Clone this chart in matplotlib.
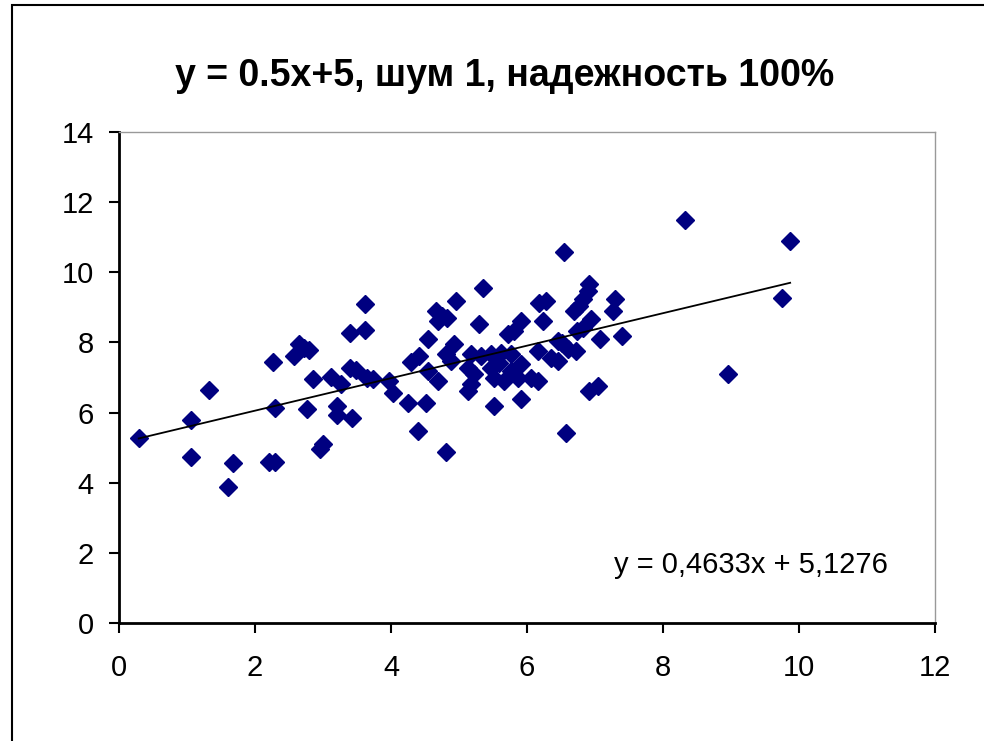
import numpy as np
import matplotlib.pyplot as plt
from matplotlib.patches import Rectangle

plt.rcParams['font.family'] = ['Liberation Sans', 'DejaVu Sans']

# точки
x_vals = [0.29, 1.06, 1.06, 1.33, 1.67, 1.61, 2.20, 2.29, 2.26, 2.29,
          2.64, 2.80, 2.58, 2.72, 2.86, 2.77, 3.00, 2.95, 3.12, 3.27,
          3.20, 3.21, 3.42, 3.40, 3.62, 3.62, 3.39, 3.49, 3.64, 3.74,
          3.97, 4.03, 4.30, 4.25, 4.52, 4.40, 4.41, 4.55, 4.66, 4.69,
          4.54, 4.69, 4.81, 5.35, 4.96, 4.75, 4.82, 5.29, 6.17, 6.28,
          6.23, 5.91, 5.81, 5.72, 4.93, 4.81, 4.88, 5.18, 5.32, 5.47,
          5.62, 5.76, 5.13, 5.22, 5.47, 5.59, 5.76, 5.87, 5.91, 6.16,
          6.35, 6.45, 6.45, 6.61, 5.13, 5.18, 5.51, 5.66, 6.06, 6.16,
          5.51, 5.91, 6.57, 6.55, 6.91, 6.89, 6.82, 6.76, 6.69, 7.30,
          7.26, 6.94, 6.83, 6.74, 7.08, 7.40, 6.52, 6.72, 7.04, 6.91,
          8.33, 9.87, 9.75, 8.96]
y_vals = [5.28, 5.80, 4.72, 6.65, 4.55, 3.89, 4.60, 4.60, 7.43, 6.12,
          7.95, 7.78, 7.61, 7.85, 6.95, 6.11, 5.11, 4.97, 7.01, 6.82,
          6.19, 5.94, 5.85, 8.27, 8.35, 9.09, 7.27, 7.20, 6.99, 6.96,
          6.90, 6.56, 7.43, 6.26, 6.28, 5.48, 7.61, 8.10, 8.89, 8.61,
          7.19, 6.90, 4.88, 9.55, 9.18, 8.75, 8.70, 8.52, 9.12, 9.18,
          8.61, 8.61, 8.32, 8.24, 7.95, 7.67, 7.47, 7.67, 7.61, 7.67,
          7.70, 7.67, 7.27, 7.10, 7.27, 7.41, 7.19, 7.00, 7.39, 7.76,
          7.56, 7.47, 8.04, 7.81, 6.62, 6.82, 6.99, 6.90, 6.99, 6.90,
          6.19, 6.39, 5.43, 10.57, 9.66, 9.46, 9.23, 9.03, 8.89, 9.23,
          8.89, 8.66, 8.41, 8.32, 8.10, 8.18, 7.98, 7.76, 6.76, 6.62,
          11.5, 10.9, 9.26, 7.10]

slope = 0.4633
intercept = 5.1276

fig = plt.figure(figsize=(9.84, 7.41), dpi=100)
fig.patches.append(Rectangle((12/984, -0.1), 1.2, 1.1 - 5/741, transform=fig.transFigure,
                             fill=False, edgecolor='black', linewidth=1.5))
ax = fig.add_axes([119/984, 1 - 623/741, (935 - 119)/984, (623 - 132)/741])

ax.plot(x_vals, y_vals, linestyle='none', marker='D', markersize=9.5,
        color='#000080', markeredgecolor='#000080')

line_x = np.array([min(x_vals), max(x_vals)])
ax.plot(line_x, slope * line_x + intercept, color='black', linewidth=1.3)

ax.set_xlim(0, 12)
ax.set_ylim(0, 14)
ax.set_xticks(range(0, 13, 2))
ax.set_yticks(range(0, 15, 2))
ax.tick_params(direction='out', length=7, width=1.5, labelsize=21)
ax.tick_params(axis='y', pad=11)
ax.tick_params(axis='x', pad=15)
for side in ['top', 'right']:
    ax.spines[side].set_color('#999999')
    ax.spines[side].set_linewidth(1)
for side in ['left', 'bottom']:
    ax.spines[side].set_linewidth(2)

ax.text(0.774, 0.118, 'y = 0,4633x + 5,1276', transform=ax.transAxes,
        fontsize=21, ha='center', va='center')

fig.text(505/984, 1 - 76/741, 'y = 0.5x+5, шум 1, надежность 100%',
         fontsize=27, fontweight='bold', ha='center', va='center')

plt.savefig('out.png', dpi=100)
